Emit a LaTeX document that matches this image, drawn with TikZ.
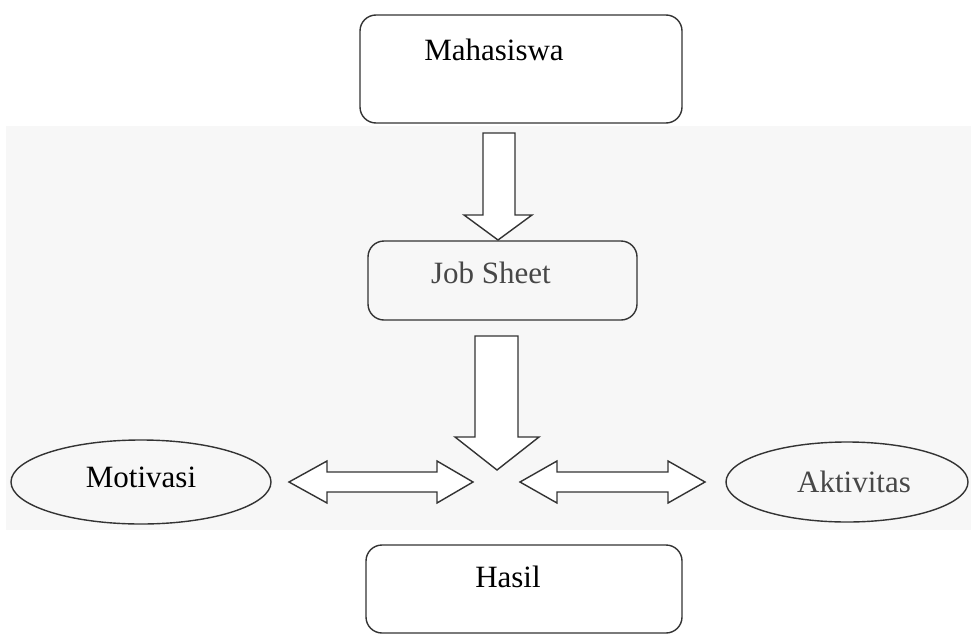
\documentclass[tikz,border=0pt]{standalone}
\usepackage{fontspec}
\setmainfont{Liberation Serif}
\begin{document}
\begin{tikzpicture}[x=1pt,y=-1pt,
  line/.style={draw=black!80, line width=1.4pt, line join=miter},
  box/.style={line, rounded corners=16pt},
  lbl/.style={anchor=base, inner sep=0pt, font=\fontsize{31}{37}\selectfont},
  soft/.style={text=black!72},
  oval/.style={line}]
\useasboundingbox (0,0) rectangle (971,637);
\fill[black!3] (6,126) rectangle (971,530);
% boxes
\draw[box] (360,15) rectangle (682,123);
\draw[box] (368,241) rectangle (637,320);
\draw[box] (366,545) rectangle (682,633);
% ellipses
\draw[oval] (141,482) ellipse [x radius=130, y radius=42];
\draw[oval] (847,482) ellipse [x radius=121, y radius=40];
% texts
\node[lbl] (mhs) at (494,60) {Mahasiswa};
\node[lbl,soft] (job) at (491,283) {Job Sheet};
\node[lbl] (mot) at (141,487) {Motivasi};
\node[lbl,soft] (akt) at (854,492) {Aktivitas};
\node[lbl] (has) at (508,587) {Hasil};
% block arrows
\draw[line,fill=white] (483,133) -- (515,133) -- (515,215) -- (532,215) -- (498,240) -- (464,215) -- (483,215) -- cycle;
\draw[line,fill=white] (475,336) -- (518,336) -- (518,437) -- (539,437) -- (497,470) -- (455,437) -- (475,437) -- cycle;
\draw[line,fill=white] (289,482) -- (327,461) -- (327,472) -- (437,472) -- (437,461) -- (473,482) -- (437,503) -- (437,492) -- (327,492) -- (327,503) -- cycle;
\draw[line,fill=white] (520,482) -- (557,461) -- (557,472) -- (668,472) -- (668,461) -- (705,482) -- (668,503) -- (668,492) -- (557,492) -- (557,503) -- cycle;
\end{tikzpicture}
\end{document}
